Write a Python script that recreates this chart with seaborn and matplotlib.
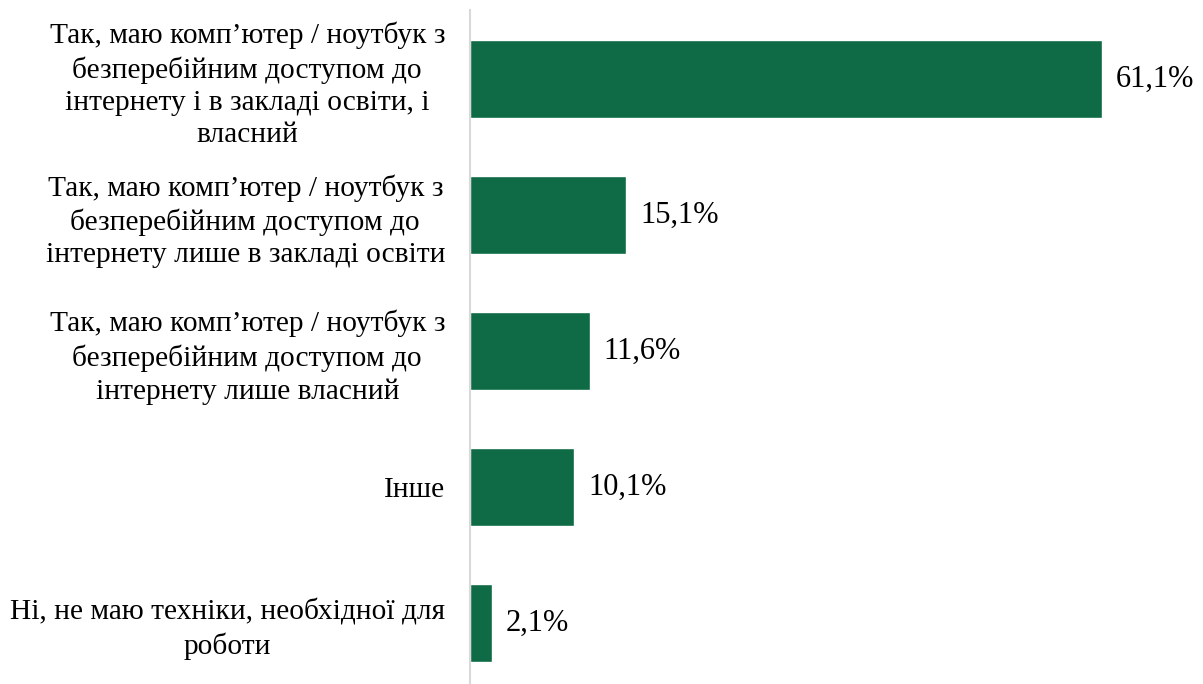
import matplotlib
matplotlib.use('Agg')
import matplotlib.pyplot as plt
import pandas as pd
import seaborn as sns

categories = [
    'Так, маю комп’ютер / ноутбук з\nбезперебійним доступом до\nінтернету і в закладі освіти, і\nвласний',
    'Так, маю комп’ютер / ноутбук з\nбезперебійним доступом до\nінтернету лише в закладі освіти',
    'Так, маю комп’ютер / ноутбук з\nбезперебійним доступом до\nінтернету лише власний',
    'Інше',
    'Ні, не маю техніки, необхідної для\nроботи',
]
values = [61.1, 15.1, 11.6, 10.1, 2.1]

df = pd.DataFrame({'cat': categories, 'val': values})

sns.set_style('white')
plt.rcParams['font.family'] = ['Liberation Serif', 'DejaVu Serif']
plt.rcParams['text.color'] = 'black'
plt.rcParams['ytick.color'] = 'black'

fig = plt.figure(figsize=(12.03, 6.84), dpi=100)
ax = fig.add_axes([470 / 1203, 0, 1 - 470 / 1203, 674 / 684])

sns.barplot(data=df, x='val', y='cat', orient='h', color='#0e6b45',
            saturation=1, width=0.574, ax=ax)

ax.set_xlim(0, 70.9)
ax.set_ylim(4.449, -0.507)
ax.set_xlabel('')
ax.set_ylabel('')
ax.set_xticks([])

for s in ['top', 'right', 'bottom']:
    ax.spines[s].set_visible(False)
ax.spines['left'].set_color('#d9d9d9')
ax.spines['left'].set_linewidth(1.5)

ax.tick_params(axis='y', length=0, pad=18, labelsize=21.2, labelcolor='black')
for lbl in ax.get_yticklabels():
    lbl.set_multialignment('center')
    lbl.set_linespacing(1.32)

ax.bar_label(ax.containers[0], labels=[f'{v:.1f}%'.replace('.', ',') for v in values],
             padding=10, fontsize=22, color='black')

fig.savefig('out.png', dpi=100)
